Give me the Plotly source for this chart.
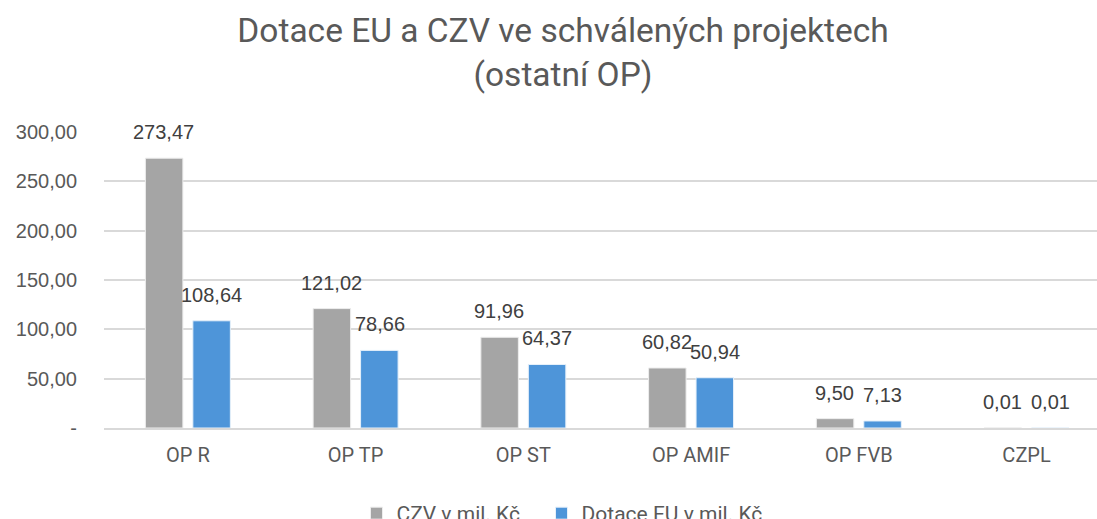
import plotly.graph_objects as go

categories = ["OP R", "OP TP", "OP ST", "OP AMIF", "OP FVB", "CZPL"]
czv = [273.47, 121.02, 91.96, 60.82, 9.50, 0.01]
eu = [108.64, 78.66, 64.37, 50.94, 7.13, 0.01]
series_names = ["CZV v mil. Kč", "Dotace EU v mil. Kč"]
tick_values = [0, 50, 100, 150, 200, 250, 300]
tick_labels = ["-", "50,00", "100,00", "150,00", "200,00", "250,00", "300,00"]


def fmt(v):
    return f"{v:.2f}".replace(".", ",")


TXT = "#595959"
LABEL_FONT = dict(family="Liberation Sans, Arial", size=20, color="#404040")
NARROW = "Roboto, Liberation Sans, Arial"

fig = go.Figure()
fig.add_trace(go.Bar(
    x=categories, y=czv, name=series_names[0], legendwidth=140,
    marker=dict(color="#A5A5A5", line=dict(color="#EDEDED", width=1)),
))
fig.add_trace(go.Bar(
    x=categories, y=eu, name=series_names[1],
    marker=dict(color="#4E95D9", line=dict(color="#E6F0FA", width=1)),
))

# data labels placed above bars via axis coordinates
annotations = []
for series, shift in ((czv, -24), (eu, 24)):
    for c, v in zip(categories, series):
        annotations.append(dict(
            x=c, y=v, xref="x", yref="y", text=fmt(v), showarrow=False,
            xanchor="center", yanchor="bottom", xshift=shift, yshift=13,
            font=LABEL_FONT,
        ))

fig.update_layout(
    width=1097, height=519,
    paper_bgcolor="white", plot_bgcolor="white",
    margin=dict(l=104, r=0, t=132, b=91, autoexpand=False),
    barmode="group", bargap=0.434, bargroupgap=0.21,
    title=dict(
        text="Dotace EU a CZV ve schválených projektech<br>(ostatní OP)",
        x=563 / 1097, xanchor="center", xref="container",
        y=1 - 42 / 519, yanchor="top", yref="container",
        font=dict(family=NARROW, size=33.5, color=TXT),
    ),
    legend=dict(
        orientation="h", x=562 / 1097, xanchor="center", xref="container",
        y=(519 - 493) / 519, yanchor="top", yref="container",
        font=dict(family=NARROW, size=21, color=TXT),
        traceorder="normal",
    ),
    annotations=annotations,
    showlegend=True,
)
fig.update_xaxes(
    range=[-0.5, 5.42],
    showline=True, linecolor="#D9D9D9", linewidth=1.5,
    ticks="", ticklabelstandoff=8,
    tickfont=dict(family=NARROW, size=20, color=TXT),
)
fig.update_yaxes(
    range=[0, 300], tickvals=tick_values, ticktext=tick_labels,
    showgrid=True, gridcolor="#D9D9D9", gridwidth=1.5, zeroline=False,
    ticks="", ticklabelstandoff=26,
    tickfont=dict(family="Liberation Sans, Arial", size=20, color=TXT),
)

fig.write_html(
    "out.html",
    config={"displayModeBar": False},
    post_script="document.body.style.margin='0';document.body.style.overflow='hidden';",
)
